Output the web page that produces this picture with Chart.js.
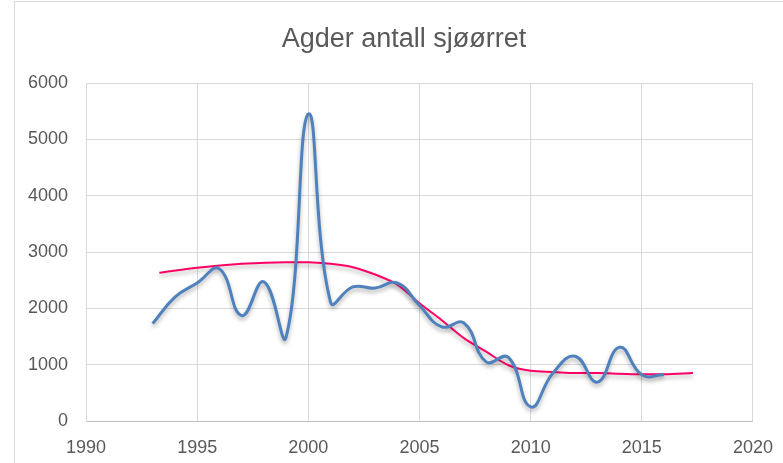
<!DOCTYPE html>
<html>
<head>
<meta charset="utf-8">
<script src="https://cdn.jsdelivr.net/npm/chart.js@4"></script>
<style>
  body { margin: 0; background: #fff; overflow: hidden; }
  #frame { position: absolute; left: 14px; top: 1px; width: 820px; height: 500px; border: 1px solid #d9d9d9; }
  #wrap { position: absolute; left: 0; top: 0; width: 783px; height: 463px; }
</style>
</head>
<body>
<div id="frame"></div>
<div id="wrap"><canvas id="chart"></canvas></div>
<script>
const title = 'Agder antall sjøørret';

const years = [1993, 1994, 1995, 1996, 1997, 1998, 1999, 2000, 2001, 2002, 2003, 2004,
               2005, 2006, 2007, 2008, 2009, 2010, 2011, 2012, 2013, 2014, 2015, 2016];
const antall = [1730, 2200, 2450, 2700, 1870, 2470, 1490, 5450, 2110, 2380, 2360, 2450,
                2050, 1670, 1740, 1050, 1130, 250, 850, 1150, 690, 1310, 820, 820];

// trendline
const trendYears = [1993.3, 1995, 1997, 1999, 2000, 2001, 2002, 2003, 2004, 2005, 2006,
                    2007, 2008, 2009, 2010, 2011, 2012, 2013, 2014, 2015, 2016, 2017.3];
const trend = [2630, 2720, 2790, 2820, 2820, 2790, 2730, 2600, 2420, 2090, 1790,
               1470, 1230, 990, 890, 870, 850, 850, 840, 830, 830, 850];

const fontFamily = "'Liberation Sans', sans-serif";

const shadow = {
    id: 'shadow',
    beforeDatasetDraw(chart) {
        const ctx = chart.ctx;
        ctx.save();
        ctx.shadowColor = 'rgba(0,0,0,0.3)';
        ctx.shadowBlur = 4;
        ctx.shadowOffsetY = 3;
    },
    afterDatasetDraw(chart) {
        chart.ctx.restore();
    }
};

// title is centred on the whole frame, not on the plot, so draw it here
const frameTitle = {
    id: 'frameTitle',
    afterDraw(chart) {
        const ctx = chart.ctx;
        ctx.save();
        ctx.font = '27px ' + fontFamily;
        ctx.fillStyle = '#595959';
        ctx.textAlign = 'center';
        ctx.textBaseline = 'alphabetic';
        ctx.fillText(title, 404, 47);
        ctx.restore();
    }
};

new Chart(document.getElementById('chart'), {
    type: 'line',
    data: {
        datasets: [{
            label: 'Antall',
            data: years.map((y, i) => ({ x: y, y: antall[i] })),
            borderColor: '#4f81bd',
            borderWidth: 3,
            pointRadius: 0,
            tension: 0.45,
        }, {
            label: 'Trend',
            data: trendYears.map((y, i) => ({ x: y, y: trend[i] })),
            borderColor: '#ff0066',
            borderWidth: 2,
            pointRadius: 0,
            cubicInterpolationMode: 'monotone',
        }],
    },
    options: {
        responsive: true,
        maintainAspectRatio: false,
        animation: false,
        layout: { padding: { left: 0, right: 29, top: 83, bottom: 0 } },
        plugins: {
            legend: { display: false },
            tooltip: { enabled: false },
            title: { display: false },
        },
        scales: {
            x: {
                type: 'linear',
                min: 1990,
                max: 2020,
                ticks: {
                    stepSize: 5,
                    color: '#595959',
                    font: { family: fontFamily, size: 18, lineHeight: 1.85 },
                    padding: 10,
                    callback: v => String(v),
                },
                grid: { color: '#d9d9d9', drawTicks: false },
                border: { color: '#bfbfbf', width: 1 },
                afterFit: s => { s.height = 42; },
            },
            y: {
                min: 0,
                max: 6000,
                ticks: {
                    stepSize: 1000,
                    color: '#595959',
                    font: { family: fontFamily, size: 18 },
                    padding: 18,
                    callback: v => String(v),
                },
                grid: { color: '#d9d9d9', drawTicks: false },
                border: { color: '#d9d9d9' },
                afterFit: s => { s.width = 86; },
            },
        },
    },
    plugins: [shadow, frameTitle],
});
</script>
</body>
</html>
